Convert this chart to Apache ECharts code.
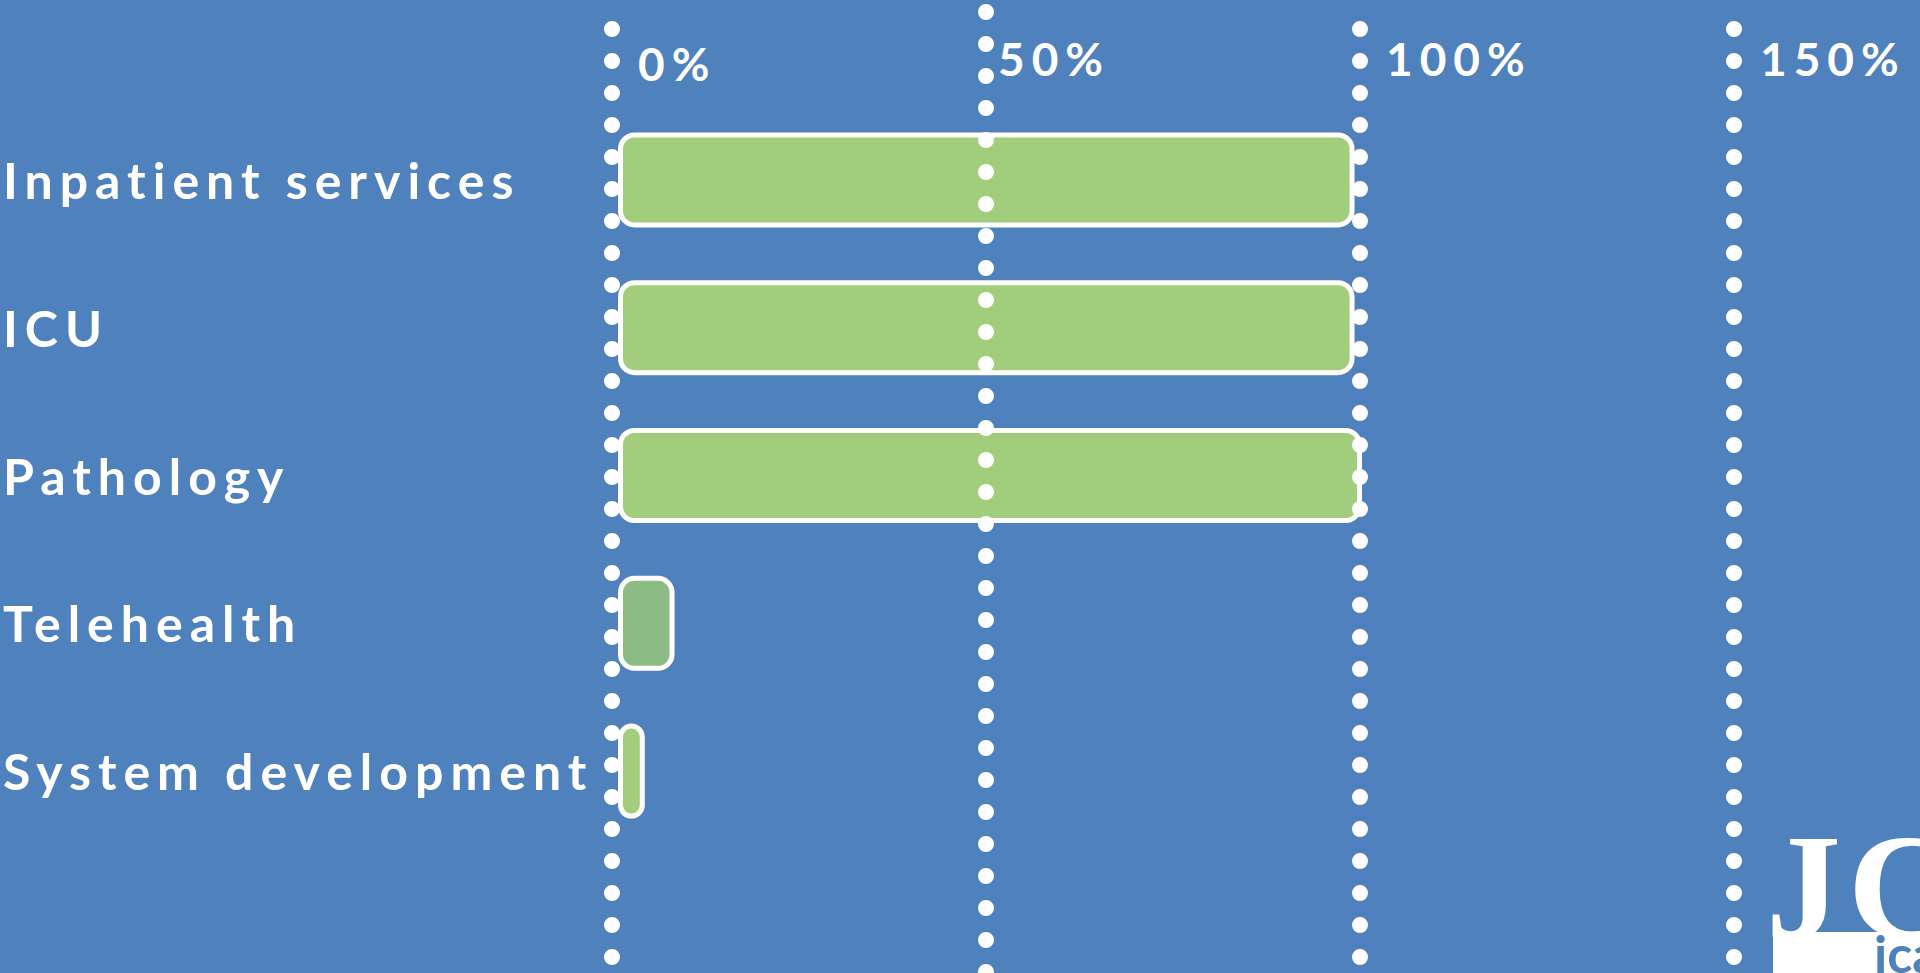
<!DOCTYPE html>
<html><head><meta charset="utf-8">
<script src="https://cdn.jsdelivr.net/npm/echarts@6/dist/echarts.min.js"></script>
<style>
html,body{margin:0;padding:0;background:#4F81BD;overflow:hidden;}
#c{width:1920px;height:973px;}
#c text[style*="50px"]{letter-spacing:7px;}
#c text[style*="46px"]{letter-spacing:7px;}
</style></head><body><div id="c"></div>
<script>
const categories = ['Inpatient services', 'ICU', 'Pathology', 'Telehealth', 'System development'];
const values = [99, 99, 100, 7.6, 3.6];
const tickValues = [0, 50, 100, 150];

const GREEN = '#A1CD7D';
const GREEN_DARK = '#8DBB85';
const BLUE = '#4F81BD';

const chart = echarts.init(document.getElementById('c'), null, { renderer: 'svg' });

const barData = values.map((v, i) => i === 3 ? { value: v, itemStyle: { color: GREEN_DARK } } : v);

chart.setOption({
  backgroundColor: BLUE,
  animation: false,
  grid: [
    { left: 612, right: 186, top: 106, bottom: 128 },
    { left: 612, right: 186, top: 0, bottom: 0 }
  ],
  xAxis: [
    { gridIndex: 0, type: 'value', min: 0, max: 150, interval: 50, show: false },
    {
      gridIndex: 1, type: 'value', min: 0, max: 150, interval: 50, position: 'top',
      axisLine: { show: false }, axisTick: { show: false }, splitLine: { show: false },
      axisLabel: {
        inside: true, margin: 58, verticalAlign: 'middle', align: 'left',
        showMinLabel: true, showMaxLabel: true,
        color: '#fff', fontFamily: 'Lato', fontWeight: 'bold', fontSize: 46,
        formatter: v => v === 0 ? '{z|' + v + '%}' : (v === 50 ? '{h|' + v + '%}' : '{a|' + v + '%}'),
        rich: {
          a: { color: '#fff', fontFamily: 'Lato', fontWeight: 'bold', fontSize: 46, padding: [0, 0, 0, 26] },
          h: { color: '#fff', fontFamily: 'Lato', fontWeight: 'bold', fontSize: 46, padding: [0, 0, 0, 12] },
          z: { color: '#fff', fontFamily: 'Lato', fontWeight: 'bold', fontSize: 46, padding: [10, 0, 0, 26] }
        }
      }
    }
  ],
  yAxis: [
    {
      gridIndex: 0, type: 'category', data: categories, inverse: true,
      axisLine: { show: false }, axisTick: { show: false }, splitLine: { show: false },
      axisLabel: {
        interval: 0, align: 'left', margin: 615, color: '#fff',
        fontFamily: 'Lato', fontWeight: 'bold', fontSize: 50
      }
    },
    { gridIndex: 1, type: 'value', min: 0, max: 1, show: false }
  ],
  series: [
    {
      type: 'bar', xAxisIndex: 0, yAxisIndex: 0, data: barData,
      barWidth: 95, silent: true,
      itemStyle: { color: GREEN, borderColor: '#fff', borderWidth: 5, borderRadius: 14 }
    },
    {
      type: 'line', xAxisIndex: 1, yAxisIndex: 1, data: [], silent: true,
      markLine: {
        silent: true, symbol: ['none', 'none'], z: 10,
        label: { show: false },
        emphasis: { disabled: true },
        lineStyle: { color: '#fff', width: 16, type: [0, 32], cap: 'round', opacity: 1 },
        data: tickValues.map(v => ({ xAxis: v, lineStyle: { dashOffset: v === 50 ? 30.7 : 16 } }))
      }
    }
  ],
  graphic: [
    { type: 'rect', shape: { x: 1773, y: 932, width: 147, height: 41 }, style: { fill: '#fff' }, z: 20 },
    { type: 'text', x: 1766, y: 962, style: { text: 'JC', fill: '#fff', font: 'bold 150px "Liberation Serif"', textVerticalAlign: 'bottom' }, z: 21 },
    { type: 'text', x: 1874, y: 979, style: { text: 'ica', fill: BLUE, font: 'bold 52px Lato', textVerticalAlign: 'bottom' }, z: 22 }
  ]
});
</script></body></html>
